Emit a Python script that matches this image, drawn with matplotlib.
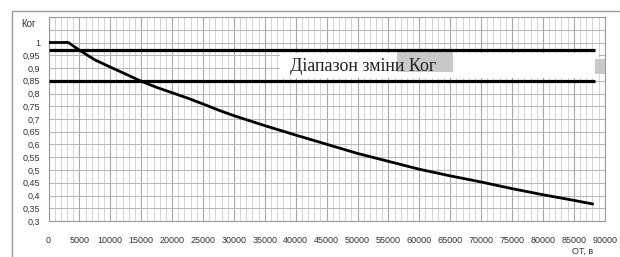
import matplotlib
matplotlib.use("Agg")
import matplotlib.pyplot as plt
from matplotlib.patches import Rectangle
from matplotlib.ticker import MultipleLocator, FuncFormatter

# data
run_km = [0, 3200, 5000, 7500, 10500, 12500, 15000, 17500, 20000, 22500,
          25000, 27500, 30000, 35000, 40000, 45000, 50000, 55000, 60000,
          65000, 70000, 75000, 80000, 85000, 88000]
k_og = [1.0, 1.0, 0.97, 0.932, 0.898, 0.876, 0.848, 0.824, 0.803, 0.782,
        0.759, 0.735, 0.713, 0.674, 0.637, 0.601, 0.565, 0.534, 0.503,
        0.477, 0.453, 0.427, 0.403, 0.381, 0.367]
range_levels = [0.97, 0.85]
range_end = 88500
range_label = "Діапазон зміни Ког"
y_label = "Ког"
x_label = "ОТ, в"

fig = plt.figure(figsize=(6.2, 2.57), dpi=100)
fig.patch.set_facecolor("white")

# outer chart frame (Excel style)
fig.patches.append(Rectangle((12 / 620, -0.2), 1.0, 1.2 - 10.5 / 257,
                             transform=fig.transFigure, fill=False,
                             edgecolor="#9a9a9a", linewidth=1.0))

ax = fig.add_axes([48.5 / 620, (257 - 221) / 257,
                   (604.7 - 48.5) / 620, (221 - 17) / 257])
ax.set_xlim(0, 90000)
ax.set_ylim(0.3, 1.1)

ax.xaxis.set_major_locator(MultipleLocator(5000))
ax.xaxis.set_minor_locator(MultipleLocator(1000))
ax.yaxis.set_major_locator(MultipleLocator(0.05))
ax.grid(which="minor", axis="x", color="#d4d4d4", linewidth=0.7)
ax.grid(which="major", axis="x", color="#a8a8a8", linewidth=0.8)
ax.grid(which="major", axis="y", color="#b8b8b8", linewidth=0.8)
ax.set_axisbelow(True)


def y_fmt(v, pos):
    if v > 1.001:
        return ""
    return f"{v:.2f}".rstrip("0").rstrip(".").replace(".", ",")


ax.yaxis.set_major_formatter(FuncFormatter(y_fmt))
ax.tick_params(axis="both", which="both", length=0, labelsize=6.5,
               colors="#333333")
ax.tick_params(axis="x", pad=10.5)
ax.tick_params(axis="y", pad=6)
for lab in ax.get_xticklabels() + ax.get_yticklabels():
    lab.set_family("Liberation Sans")
for s in ax.spines.values():
    s.set_color("#9a9a9a")
    s.set_linewidth(0.8)

# range box behind the label
ax.add_patch(Rectangle((37500, 0.862), 51500, 0.096, facecolor="white",
                       edgecolor="none", zorder=2))
ax.add_patch(Rectangle((56400, 0.883), 9100, 0.079, facecolor="#c8c8c8",
                       edgecolor="none", zorder=2))
ax.add_patch(Rectangle((88500, 0.875), 1500, 0.06, facecolor="#c8c8c8",
                       edgecolor="none", zorder=2))

for lvl in range_levels:
    ax.plot([0, range_end], [lvl, lvl], color="black", linewidth=2.3,
            zorder=3, solid_capstyle="butt")

ax.plot(run_km, k_og, color="black", linewidth=2.0, zorder=4,
        solid_joinstyle="round")

ax.text(39000, 0.905, range_label, fontsize=13, family="Liberation Serif",
        color="#222222", va="center", ha="left", zorder=5)

fig.text(28 / 620, (257 - 24) / 257, y_label, fontsize=7, color="#333333",
         ha="center", va="center", family="Liberation Sans")
fig.text(583 / 620, (257 - 251.5) / 257, x_label, fontsize=6.5,
         color="#333333", ha="center", va="center", family="Liberation Sans")

fig.savefig("out.png", dpi=100, facecolor="white")
